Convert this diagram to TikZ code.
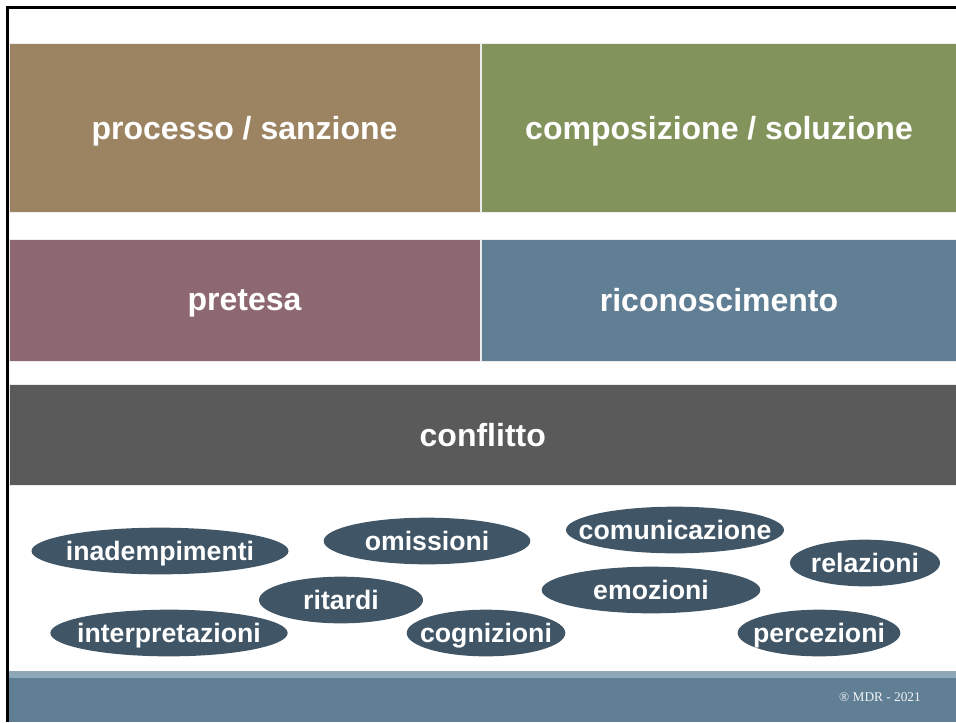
\documentclass[tikz,border=0pt]{standalone}
\usepackage{fontspec}
\setmainfont{Liberation Serif}
\setsansfont{Liberation Sans}
\usepackage{tikz}
\usetikzlibrary{positioning, shapes}
\definecolor{brownbox}{HTML}{9C8462}
\definecolor{greenbox}{HTML}{82935B}
\definecolor{mauvebox}{HTML}{8D6870}
\definecolor{bluebox}{HTML}{617F94}
\definecolor{greybox}{HTML}{5A5A5A}
\definecolor{tagfill}{HTML}{405566}
\definecolor{stripcolor}{HTML}{8FA8B8}

\begin{document}
\begin{tikzpicture}
    [x=0.75pt, y=-0.75pt,
      box/.style={fill=#1, draw=white!85!gray, text=white, inner sep=0pt, text depth=0pt,
        font=\sffamily\bfseries\fontsize{24}{28}\selectfont},
      tag/.style={ellipse, fill=tagfill, text=white, inner sep=0pt, text depth=0pt,
        minimum height=35pt, font=\sffamily\bfseries\fontsize{20}{24}\selectfont}]

    \useasboundingbox (0,0) rectangle (956,722);
    \draw[line width=1.9pt] (7.5,722) -- (7.5,7.5) -- (956,7.5);

    \node[box=brownbox, minimum width=352.9pt, minimum height=126.75pt, anchor=north west]
    (PS) at (9,43) {processo / sanzione};
    \node[box=greenbox, minimum width=356.5pt, minimum height=126.75pt, right=0.75pt of PS]
    (CS) {composizione / soluzione};
    \node[box=mauvebox, minimum width=352.9pt, minimum height=91.5pt, below=19.5pt of PS]
    (PR) {pretesa};
    \node[box=bluebox, minimum width=356.5pt, minimum height=91.5pt, right=0.75pt of PR]
    (RI) {riconoscimento};
    \node[box=greybox, minimum width=710.25pt, minimum height=75.75pt,
      below=17.25pt of PR.south west, anchor=north west] (K) {conflitto};

    \node[tag, minimum width=192.75pt] (IN) at (160,551) {\makebox[0pt]{inadempimenti}};
    \node[tag, minimum width=155pt] (OM) at (427,541) {\makebox[0pt]{omissioni}};
    \node[tag, minimum width=123pt] (RT) at (341,600) {\makebox[0pt]{ritardi}};
    \node[tag, minimum width=178pt] (IP) at (169,633) {\makebox[0pt]{interpretazioni}};
    \node[tag, minimum width=119pt] (CG) at (486,633) {\makebox[0pt]{cognizioni}};
    \node[tag, minimum width=163.5pt] (CM) at (675,530) {\makebox[0pt]{comunicazione}};
    \node[tag, minimum width=164pt] (EM) at (651,590) {\makebox[0pt]{emozioni}};
    \node[tag, minimum width=112.5pt] (RL) at (865,563) {\makebox[0pt]{relazioni}};
    \node[tag, minimum width=122pt] (PC) at (819,633) {\makebox[0pt]{percezioni}};

    \fill[stripcolor] (9,670.5) rectangle (956,677.5);
    \fill[bluebox] (9,677.5) rectangle (956,722);
    \node[text=white!90!bluebox, font=\fontsize{10}{12}\selectfont] (MDR) at (880,697)
    {® MDR - 2021};
  \end{tikzpicture}
\end{document}
